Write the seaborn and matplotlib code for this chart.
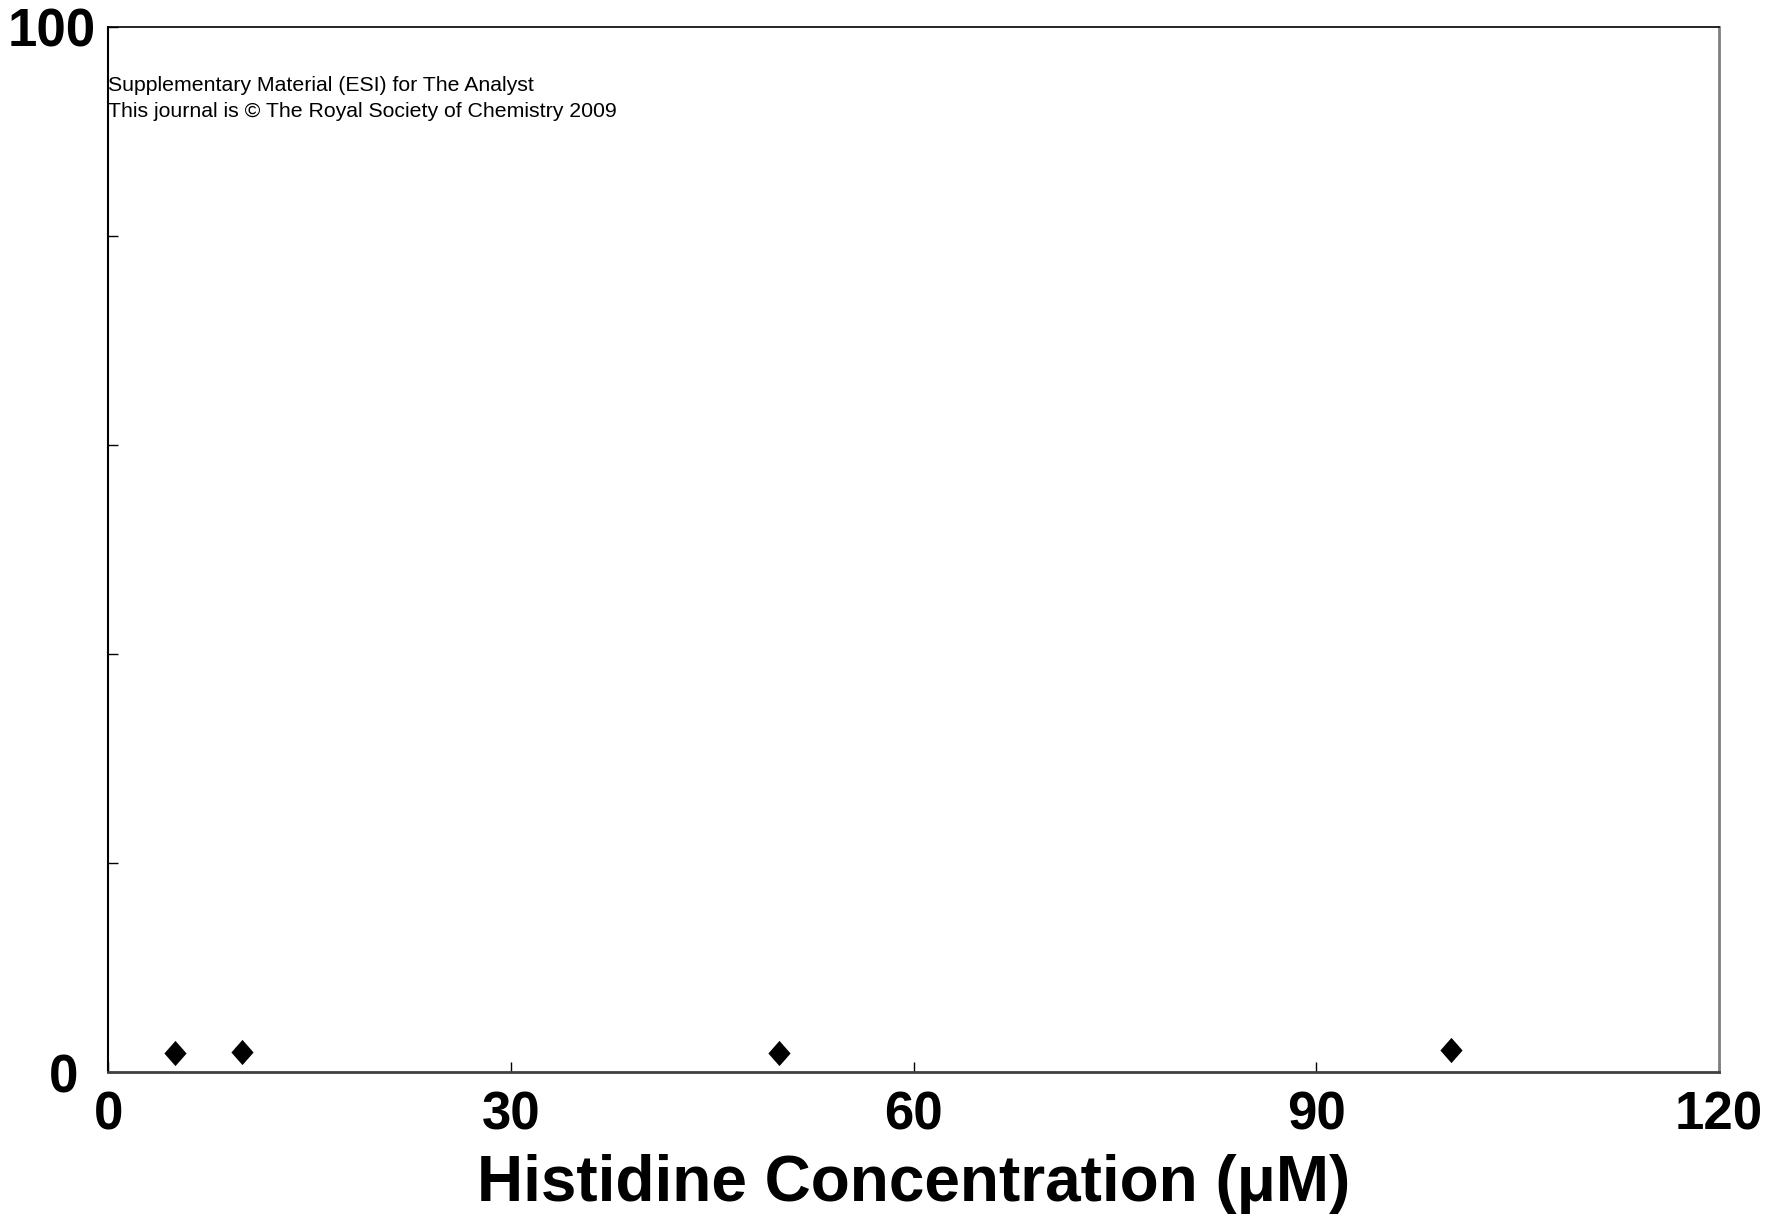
import matplotlib
matplotlib.use("Agg")
import matplotlib.pyplot as plt
import matplotlib.transforms as mtransforms
import seaborn as sns
import pandas as pd

# data
conc = [5, 10, 50, 100]
signal = [1.8, 1.9, 1.8, 2.1]

x_ticks = [0, 30, 60, 90, 120]
y_ticks = [0, 20, 40, 60, 80, 100]
y_labels = ["0", "", "", "", "", "100"]

df = pd.DataFrame({"conc": conc, "signal": signal})

sns.set_style("white")
plt.rcParams["font.family"] = ["Liberation Sans", "DejaVu Sans"]
plt.rcParams["text.color"] = "black"
plt.rcParams["axes.labelcolor"] = "black"
plt.rcParams["xtick.color"] = "black"
plt.rcParams["ytick.color"] = "black"

fig = plt.figure(figsize=(17.66, 12.17), dpi=100)
ax = fig.add_axes([0.0612, 0.1191, 0.9122, 0.8587])

# diamond slightly taller than wide
diamond = [(-0.44, 0), (0, 0.5), (0.44, 0), (0, -0.5), (-0.44, 0)]
sns.scatterplot(data=df, x="conc", y="signal", marker=diamond, s=330,
                color="black", edgecolor="black", linewidth=0, ax=ax)

ax.set_xlim(0, 120)
ax.set_ylim(0, 100)
ax.set_xticks(x_ticks)
ax.set_yticks(y_ticks)
ax.set_yticklabels(y_labels)

ax.tick_params(axis="both", direction="in", length=7, width=1, color="black",
               labelsize=38, left=True, bottom=True, labelcolor="black")
ax.tick_params(axis="x", pad=13)
ax.tick_params(axis="y", pad=9)
for lab in ax.get_xticklabels() + ax.get_yticklabels():
    lab.set_fontweight("bold")

# the "0" on the y axis sits further left in the original
zero = ax.get_yticklabels()[0]
zero.set_transform(zero.get_transform() +
                   mtransforms.ScaledTranslation(-0.17, -0.01, fig.dpi_scale_trans))

ax.set_xlabel("Histidine Concentration (\u03bcM)", fontsize=46,
              fontweight="bold", labelpad=10, color="black")
ax.set_ylabel("")

ax.spines["left"].set_color("black")
ax.spines["left"].set_linewidth(1.5)
ax.spines["top"].set_color("black")
ax.spines["top"].set_linewidth(1.2)
ax.spines["bottom"].set_color("#404040")
ax.spines["bottom"].set_linewidth(2)
ax.spines["right"].set_color("#808080")
ax.spines["right"].set_linewidth(2)

ax.text(0.0, 0.953, "Supplementary Material (ESI) for The Analyst\n"
        "This journal is \u00a9 The Royal Society of Chemistry 2009",
        transform=ax.transAxes, fontsize=15.3, va="top", ha="left",
        linespacing=1.45, color="black")

fig.savefig("out.png", dpi=100)
